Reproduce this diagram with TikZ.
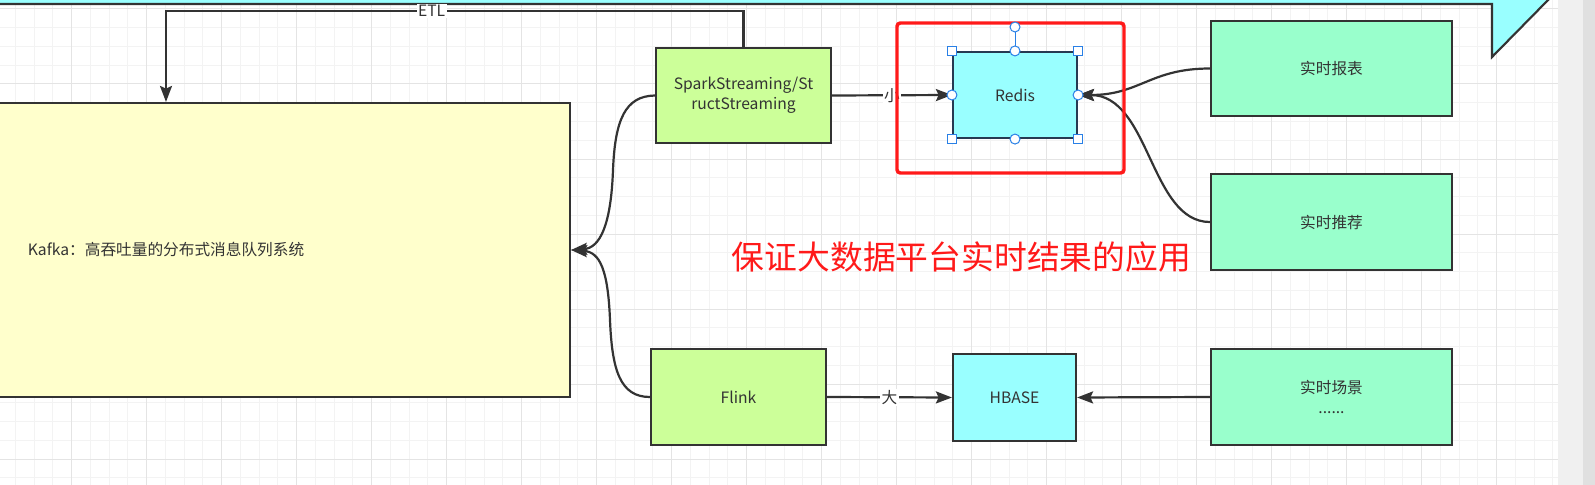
\documentclass[tikz,border=0pt]{standalone}
\usepackage{fontspec}
\usepackage{tikz}
\usetikzlibrary{arrows.meta}
\newfontfamily\cjk{Noto Sans CJK SC}
\definecolor{linie}{RGB}{51,51,51}
\definecolor{schrift}{RGB}{51,51,51}
\definecolor{kafkagelb}{RGB}{255,255,204}
\definecolor{hellgruen}{RGB}{204,255,153}
\definecolor{mint}{RGB}{153,255,204}
\definecolor{tuerkis}{RGB}{153,255,255}
\definecolor{redisrand}{RGB}{38,58,82}
\definecolor{rahmenrot}{RGB}{255,26,26}
\definecolor{griff}{RGB}{41,128,230}
\definecolor{rasterfein}{RGB}{243,243,243}
\definecolor{rastergrob}{RGB}{228,228,228}
\definecolor{leistehell}{RGB}{240,240,240}
\definecolor{leistedunkel}{RGB}{224,224,224}
\tikzset{>={Stealth[length=12pt,width=9pt,inset=2pt]}}

\begin{document}
\begin{tikzpicture}[x=0.75pt, y=-0.75pt, linie,
	box/.style={draw=linie, line width=1.6pt, text=schrift, align=center, inner sep=0pt,
		font=\cjk\fontsize{11.75}{15}\selectfont},
	conn/.style={->, draw=linie, line width=1.65pt},
	lbl/.style={fill=white, text=schrift, inner sep=1pt, font=\cjk\fontsize{11.75}{15}\selectfont},
	hsq/.style={draw=griff, fill=white, line width=0.75pt, minimum size=6.75pt, inner sep=0pt},
	hcirc/.style={circle, draw=griff, fill=white, line width=0.75pt, minimum size=7.5pt, inner sep=0pt}]

	\useasboundingbox (0,0) rectangle (1595,485);
	\clip (0,0) rectangle (1595,485);

	\begin{scope}
		\clip (0,0) rectangle (1558,485);
		\foreach \i in {0,...,84} \draw[rasterfein, line width=0.75pt] ({-3.3+18.75*\i},0) -- ({-3.3+18.75*\i},485);
		\foreach \i in {0,...,25} \draw[rasterfein, line width=0.75pt] (0,{9+18.75*\i}) -- (1558,{9+18.75*\i});
		\foreach \i in {0,...,21} \draw[rastergrob, line width=0.75pt] ({-3.3+75*\i},0) -- ({-3.3+75*\i},485);
		\foreach \i in {0,...,6} \draw[rastergrob, line width=0.75pt] (0,{9+75*\i}) -- (1558,{9+75*\i});
	\end{scope}

	\filldraw[fill=tuerkis, draw=linie, line width=1.6pt] (-10,-30) -- (-10,4) -- (1492,4) -- (1492,57) -- (1552,-4) -- (1552,-30) -- cycle;

	\fill[leistehell] (1558,0) rectangle (1583,485);
	\fill[leistedunkel] (1583,0) rectangle (1595,485);

	\node[box, fill=kafkagelb, minimum width=606pt, minimum height=220.5pt] (kafka) at (166,250) {Kafka：高吞吐量的分布式消息队列系统};
	\node[box, fill=hellgruen, minimum width=131.25pt, minimum height=71.25pt] (spark) at (743.5,95.5) {SparkStreaming/St\\ructStreaming};
	\node[box, fill=hellgruen, minimum width=131.25pt, minimum height=72pt] (flink) at (738.5,397) {Flink};
	\node[box, fill=tuerkis, draw=redisrand, minimum width=93pt, minimum height=64.5pt] (redis) at (1015,95) {Redis};
	\node[box, fill=tuerkis, minimum width=92.25pt, minimum height=65.25pt] (hbase) at (1014.5,397.5) {HBASE};
	\node[box, fill=mint, minimum width=180.75pt, minimum height=71.25pt] (baobiao) at (1331.5,68.5) {实时报表};
	\node[box, fill=mint, minimum width=180.75pt, minimum height=72pt] (tuijian) at (1331.5,222) {实时推荐};
	\node[box, fill=mint, minimum width=180.75pt, minimum height=72pt] (changjing) at (1331.5,397) {实时场景\\......};

	\coordinate (etlknick) at (743.5,11);
	\draw[conn] (spark.north) -- (etlknick) -| node[lbl, pos=0.27] {ETL} (kafka.north);

	\draw[conn] (spark.west) .. controls (625,96) and (615,120) .. (613,170) .. controls (611,225) and (600,248) .. (kafka.east);
	\draw[conn] (flink.west) .. controls (620,397) and (612,370) .. (610,320) .. controls (608,270) and (600,252) .. (kafka.east);

	\draw[conn] (spark.east) -- node[lbl] {小} (redis.west);
	\draw[conn] (flink.east) -- node[lbl] {大} (hbase.west);

	\draw[conn] (baobiao.west) .. controls (1150,68.5) and (1140,95) .. (redis.east);
	\draw[conn] (tuijian.west) .. controls (1150,222) and (1150,95) .. (redis.east);
	\draw[conn] (changjing.west) -- (hbase.east);

	\draw[rahmenrot, line width=2.6pt, rounded corners=2.5pt] (897,23) rectangle (1124,173);

	\node[hcirc] (dreh) at (1015,27) {};
	\draw[griff, line width=0.75pt] (redis.north) -- (dreh.south);
	\foreach \a/\n in {north west/nw, north east/ne, south west/sw, south east/se}
		\node[hsq] (h\n) at (redis.\a) {};
	\foreach \a/\n in {north/n, south/s, east/e, west/w}
		\node[hcirc] (k\n) at (redis.\a) {};

	\node[text=rahmenrot, font=\cjk\fontsize{24.6}{30}\selectfont] (titel) at (961.5,257) {保证大数据平台实时结果的应用};

\end{tikzpicture}
\end{document}
